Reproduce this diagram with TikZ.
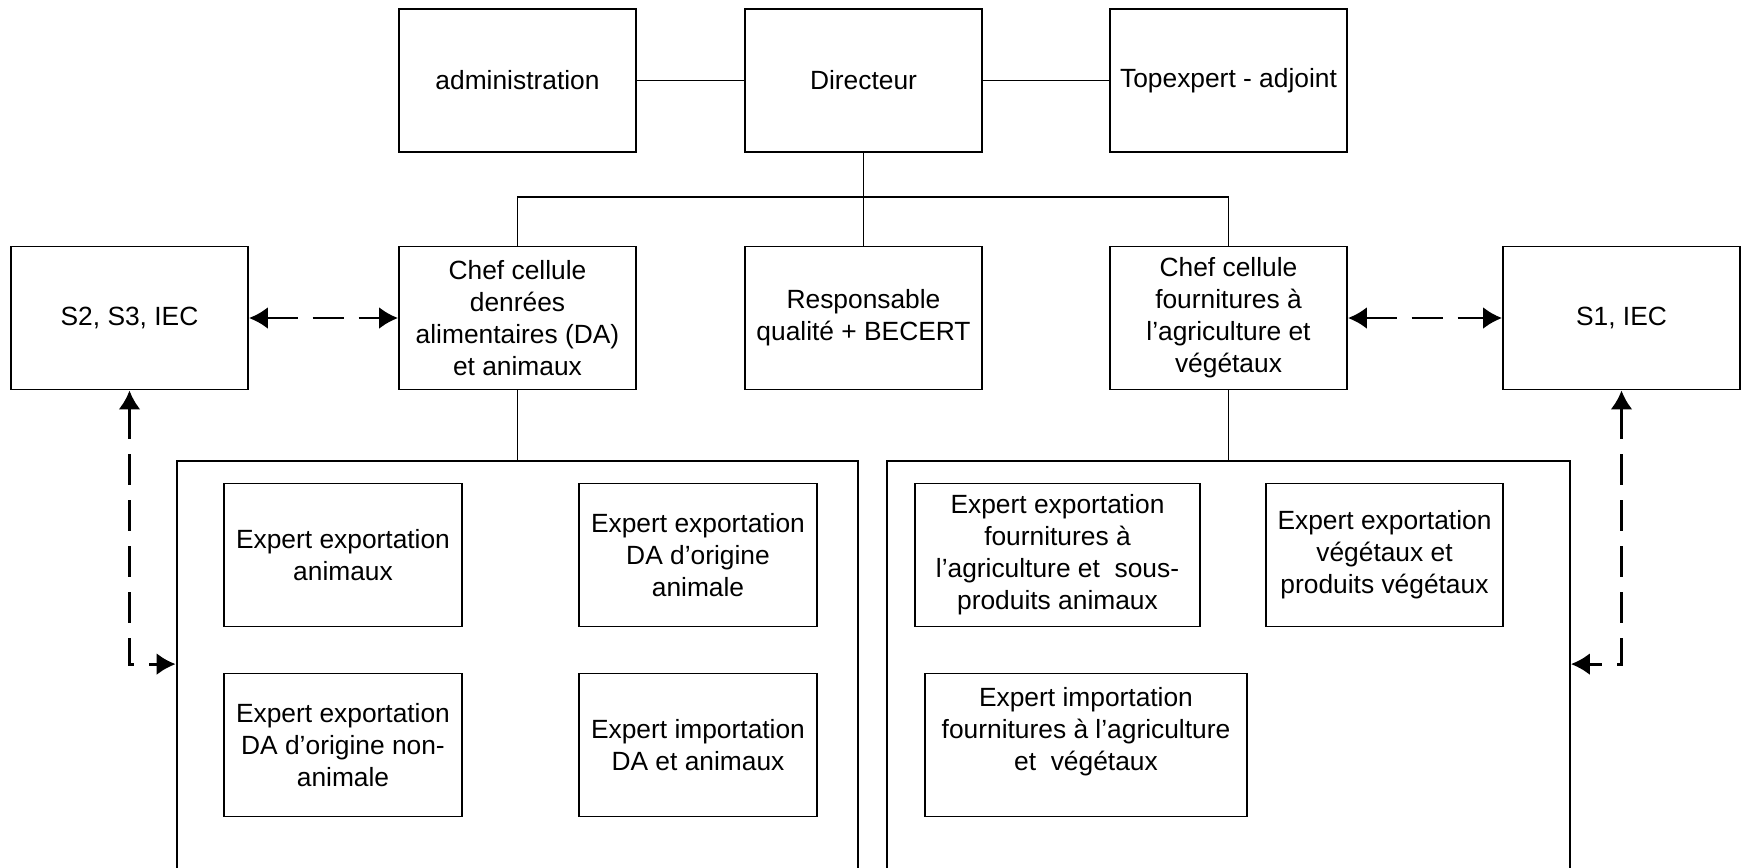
\documentclass[tikz,border=0pt]{standalone}
\usepackage{fontspec}
\setmainfont{Liberation Sans}
\usetikzlibrary{arrows.meta,calc}

\tikzset{
  box/.style={draw, line width=1.1pt, minimum width=4.74cm, minimum height=2.86cm,
    inner sep=0pt, align=center, font=\fontsize{15}{18.2}\selectfont},
  frame/.style={draw, line width=1.1pt, inner sep=0pt, minimum height=10.78cm},
  link/.style={line width=1.1pt},
  dlink/.style={<->, >={Latex[length=0.38cm,width=0.44cm]}, line width=1.6pt,
    dash pattern=on 0.62cm off 0.3cm},
}

\begin{document}
\begin{tikzpicture}[x=0.02cm,y=-0.02cm]
      \useasboundingbox (0,0) rectangle (1742,867);
      \clip (0,0) rectangle (1742,867);
      %Direction
      \node[box] (admin) at (517.5,80.5) {administration};
      \node[box] (dir) at (863.5,80.5) {Directeur};
      \node[box] (topexp) at (1228.5,80.5) {Topexpert - adjoint};
      \draw[link] (admin) -- (dir);
      \draw[link] (dir) -- (topexp);
      %Cellules
      \node[box] (s2) at (129.5,318) {S2, S3, IEC};
      \node[box] (chefDA) at (517.5,318) {Chef cellule\\denrées\\alimentaires (DA)\\et animaux};
      \node[box] (resp) at (863.5,318) {Responsable\\qualité + BECERT};
      \node[box] (chefFV) at (1228.5,318) {Chef cellule\\fournitures à\\l’agriculture et\\végétaux};
      \node[box] (s1) at (1621.5,318) {S1, IEC};
      \coordinate (bus) at (863.5,197);
      \draw[link] (dir.south) -- (resp.north);
      \draw[link] (chefDA.north) |- (bus) -| (chefFV.north);
      %Experts DA
      \node[frame, minimum width=13.64cm] (contDA) at (517.5,730.5) {};
      \draw[link] (chefDA.south) -- (contDA.north);
      \node[box, minimum width=4.76cm] (expAnim) at (343,555) {Expert exportation\\animaux};
      \node[box, minimum width=4.76cm] (expDAanim) at (698,555) {Expert exportation\\DA d’origine\\animale};
      \node[box, minimum width=4.76cm] (expDAnonanim) at (343,745) {Expert exportation\\DA d’origine non-\\animale};
      \node[box, minimum width=4.76cm] (impDA) at (698,745) {Expert importation\\DA et animaux};
      %Experts fournitures et vegetaux
      \node[frame, minimum width=13.66cm] (contFV) at (1228.5,730.5) {};
      \draw[link] (chefFV.south) -- (contFV.north);
      \node[box, minimum width=5.7cm] (expFourn) at (1057.5,555) {Expert exportation\\fournitures à\\l’agriculture et~~sous-\\produits animaux};
      \node[box] (expVeg) at (1384.5,555) {Expert exportation\\végétaux et\\produits végétaux};
      \node[box, minimum width=6.44cm] (impFourn) at (1086,745) {Expert importation\\fournitures à l'agriculture\\et~~végétaux\\~};
      %Liens
      \draw[dlink] (s2.east) -- (chefDA.west);
      \draw[dlink] (chefFV.east) -- (s1.west);
      \draw[dlink] (s2.south) |- ($(contDA.north west)+(0,204)$);
      \draw[dlink] (s1.south) |- ($(contFV.north east)+(0,204)$);
\end{tikzpicture}
\end{document}
